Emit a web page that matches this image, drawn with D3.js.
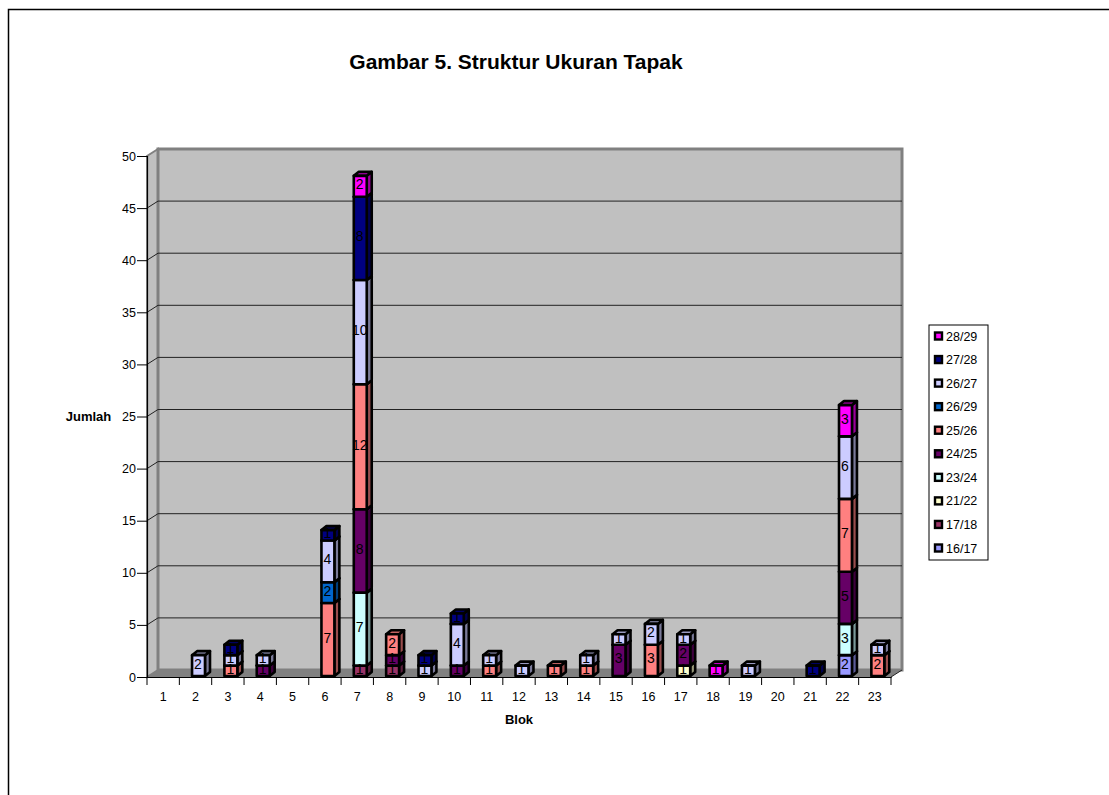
<!DOCTYPE html>
<html>
<head>
<meta charset="utf-8">
<script src="https://cdn.jsdelivr.net/npm/d3@7"></script>
<style>
  html, body { margin: 0; padding: 0; background: #fff; overflow: hidden; }
  text { font-family: "Liberation Sans", Arial, sans-serif; fill: #000; }
</style>
</head>
<body>
<script>
// data
const blocks = ["1","2","3","4","5","6","7","8","9","10","11","12","13","14","15","16","17","18","19","20","21","22","23"];
const seriesNames = ["16/17","17/18","21/22","23/24","24/25","25/26","26/29","26/27","27/28","28/29"];
const seriesColors = ["#9999ff","#993366","#ffffcc","#ccffff","#660066","#ff8080","#0066cc","#ccccff","#000080","#ff00ff"];
const yTicks = [0,5,10,15,20,25,30,35,40,45,50];

// values per block, 1..23
const s1617 = [0,0,0,0,0,0,0,0,0,0,0,0,0,0,0,0,0,0,0,0,0,2,0];
const s1718 = [0,0,0,0,0,0,1,1,0,0,0,0,0,0,0,0,0,0,0,0,0,0,0];
const s2122 = [0,0,0,0,0,0,0,0,0,0,0,0,0,0,0,0,1,0,0,0,0,0,0];
const s2324 = [0,0,0,0,0,0,7,0,0,0,0,0,0,0,0,0,0,0,0,0,0,3,0];
const s2425 = [0,0,0,1,0,0,8,1,0,1,0,0,0,0,3,0,2,0,0,0,0,5,0];
const s2526 = [0,0,1,0,0,7,12,2,0,0,1,0,1,1,0,3,0,0,0,0,0,7,2];
const s2629 = [0,0,0,0,0,2,0,0,0,0,0,0,0,0,0,0,0,0,0,0,0,0,0];
const s2627 = [0,2,1,1,0,4,10,0,1,4,1,1,0,1,1,2,1,0,1,0,0,6,1];
const s2728 = [0,0,1,0,0,1,8,0,1,1,0,0,0,0,0,0,0,0,0,0,1,0,0];
const s2829 = [0,0,0,0,0,0,2,0,0,0,0,0,0,0,0,0,0,1,0,0,0,3,0];
const seriesValues = [s1617,s1718,s2122,s2324,s2425,s2526,s2629,s2627,s2728,s2829];

// layout
const width = 1109, height = 795;
const plot = { left: 147, right: 891, top: 156, bottom: 677 };
const wall = { dx: 11, dy: -7 };   // back wall offset
const bar = { dx: 3, dy: -1, depthX: 5, depthY: 4 }; // bars stand a bit inside the floor

const svg = d3.select("body").append("svg")
  .attr("width", width)
  .attr("height", height)
  .style("display", "block");

// outer frame, runs off the right and bottom of the page
svg.append("rect")
  .attr("x", 8.5).attr("y", 9.5)
  .attr("width", width + 20).attr("height", height + 20)
  .attr("fill", "#fff").attr("stroke", "#000").attr("stroke-width", 1.5);

const x = d3.scaleBand().domain(blocks).range([plot.left, plot.right]).paddingInner(0.6).paddingOuter(0.3);
const slot = d3.scaleBand().domain(blocks).range([plot.left, plot.right]);
const y = d3.scaleLinear().domain([0, 50]).range([plot.bottom, plot.top]);

// walls
svg.append("polygon")
  .attr("points", [[plot.left, plot.top], [plot.left + wall.dx, plot.top + wall.dy], [plot.left + wall.dx, plot.bottom + wall.dy], [plot.left, plot.bottom]].join(" "))
  .attr("fill", "#c0c0c0").attr("stroke", "#808080").attr("stroke-width", 2);
svg.append("rect")
  .attr("x", plot.left + wall.dx).attr("y", plot.top + wall.dy)
  .attr("width", plot.right - plot.left).attr("height", plot.bottom - plot.top)
  .attr("fill", "#c0c0c0").attr("stroke", "#808080").attr("stroke-width", 3);
svg.append("polygon")
  .attr("points", [[plot.left, plot.bottom], [plot.left + wall.dx, plot.bottom + wall.dy], [plot.right + wall.dx, plot.bottom + wall.dy], [plot.right, plot.bottom]].join(" "))
  .attr("fill", "#808080");

// gridlines
const grid = svg.append("g").attr("stroke", "#222").attr("stroke-width", 1);
yTicks.filter((d) => d > 0 && d < 50).forEach((d) => {
  grid.append("line")
    .attr("x1", plot.left).attr("y1", y(d))
    .attr("x2", plot.left + wall.dx).attr("y2", y(d) + wall.dy);
  grid.append("line")
    .attr("x1", plot.left + wall.dx).attr("y1", y(d) + wall.dy)
    .attr("x2", plot.right + wall.dx).attr("y2", y(d) + wall.dy);
});
svg.append("line")
  .attr("x1", plot.right).attr("y1", plot.bottom)
  .attr("x2", plot.right + wall.dx).attr("y2", plot.bottom + wall.dy)
  .attr("stroke", "#222");

// axes
const yAxis = svg.append("g")
  .attr("transform", `translate(${plot.left},0)`)
  .call(d3.axisLeft(y).tickValues(yTicks).tickSize(10).tickPadding(1));
const xAxis = svg.append("g")
  .attr("transform", `translate(0,${plot.bottom})`)
  .call(d3.axisBottom(slot).tickSize(0).tickPadding(15));
[yAxis, xAxis].forEach((a) => {
  a.select(".domain").attr("stroke", "#000").attr("stroke-width", 1.2);
  a.selectAll("line").attr("stroke", "#000");
  a.selectAll("text").attr("font-size", 12.5).attr("font-family", "Liberation Sans");
});

// category separators under the axis
svg.append("g").selectAll("line")
  .data(blocks.concat("end"))
  .join("line")
  .attr("x1", (d, i) => plot.left + i * slot.step())
  .attr("x2", (d, i) => plot.left + i * slot.step())
  .attr("y1", plot.bottom).attr("y2", plot.bottom + 8)
  .attr("stroke", "#000");

// stacked bars
const rows = blocks.map((b, i) => {
  const row = { block: b };
  seriesNames.forEach((n, j) => (row[n] = seriesValues[j][i]));
  return row;
});
const stacked = d3.stack().keys(seriesNames)(rows);

const shade = (c, k) => {
  const r = d3.rgb(c);
  return d3.rgb(r.r * k, r.g * k, r.b * k).formatHex();
};

const bars = svg.append("g").attr("stroke", "#000").attr("stroke-width", 2.6).attr("stroke-linejoin", "round");
const labels = [];
stacked.forEach((layer, j) => {
  layer.forEach((d) => {
    if (d[1] === d[0]) return;
    const x0 = x(d.data.block) + bar.dx;
    const x1 = x0 + x.bandwidth();
    const yTop = y(d[1]) + bar.dy;
    const yBot = y(d[0]) + bar.dy;
    const seg = bars.append("g");
    seg.append("polygon")
      .attr("points", [[x1, yTop], [x1 + bar.depthX, yTop - bar.depthY], [x1 + bar.depthX, yBot - bar.depthY], [x1, yBot]].join(" "))
      .attr("fill", shade(seriesColors[j], 0.6));
    seg.append("polygon")
      .attr("points", [[x0, yTop], [x0 + bar.depthX, yTop - bar.depthY], [x1 + bar.depthX, yTop - bar.depthY], [x1, yTop]].join(" "))
      .attr("fill", shade(seriesColors[j], 0.75));
    seg.append("rect")
      .attr("x", x0).attr("y", yTop)
      .attr("width", x1 - x0).attr("height", yBot - yTop)
      .attr("fill", seriesColors[j]);
    labels.push({ x: (x0 + x1) / 2 - 0.5, y: (yTop + yBot) / 2 - 2, value: d[1] - d[0] });
  });
});

svg.append("g").selectAll("text")
  .data(labels)
  .join("text")
  .attr("x", (d) => d.x)
  .attr("y", (d) => d.y)
  .attr("dy", "0.36em")
  .attr("text-anchor", "middle")
  .attr("font-size", 14)
  .text((d) => d.value);

// titles
svg.append("text")
  .attr("x", 516).attr("y", 69)
  .attr("text-anchor", "middle")
  .attr("font-size", 21).attr("font-weight", "bold")
  .text("Gambar 5. Struktur Ukuran Tapak");
svg.append("text")
  .attr("x", 88.5).attr("y", 421)
  .attr("text-anchor", "middle")
  .attr("font-size", 13).attr("font-weight", "bold")
  .text("Jumlah");
svg.append("text")
  .attr("x", 519).attr("y", 724)
  .attr("text-anchor", "middle")
  .attr("font-size", 13).attr("font-weight", "bold")
  .text("Blok");

// legend, reverse order
const legend = svg.append("g");
legend.append("rect")
  .attr("x", 929).attr("y", 325).attr("width", 59).attr("height", 235)
  .attr("fill", "#fff").attr("stroke", "#000").attr("stroke-width", 1);
const legendY = d3.scalePoint()
  .domain(seriesNames.slice().reverse())
  .range([336, 548]);
const item = legend.selectAll("g")
  .data(seriesNames.slice().reverse())
  .join("g")
  .attr("transform", (d) => `translate(0,${legendY(d)})`);
item.append("rect")
  .attr("x", 935).attr("y", -3.5).attr("width", 7).attr("height", 7)
  .attr("stroke", "#000").attr("stroke-width", 2.4)
  .attr("fill", (d) => seriesColors[seriesNames.indexOf(d)]);
item.append("text")
  .attr("x", 946).attr("y", 0).attr("dy", "0.36em")
  .attr("font-size", 12.5)
  .text((d) => d);
</script>
</body>
</html>
